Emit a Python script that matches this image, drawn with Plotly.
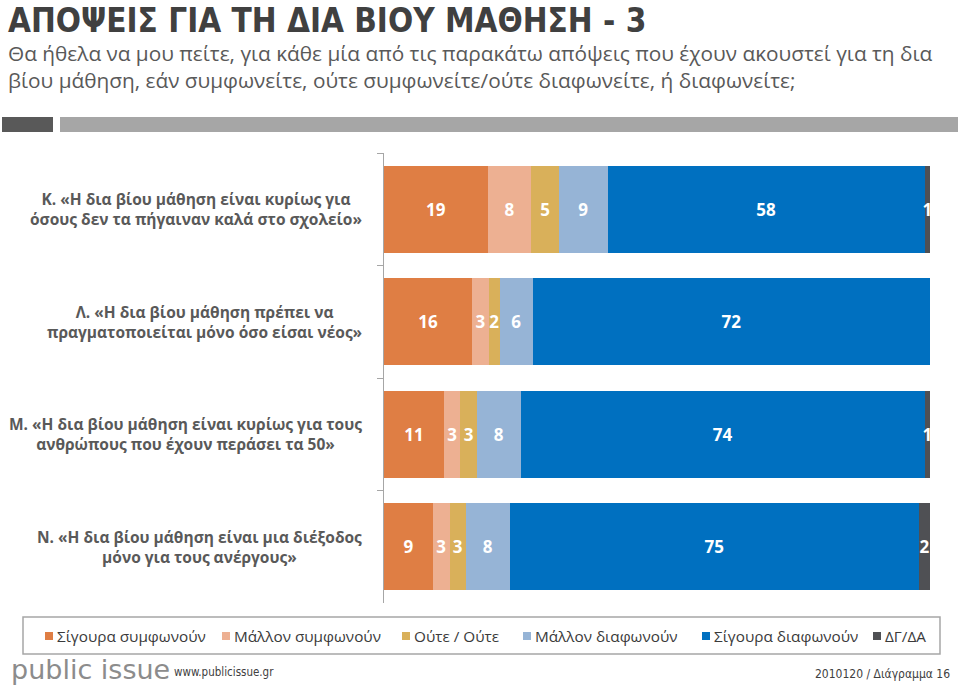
import plotly.graph_objects as go

statements = [
    "Κ. «Η δια βίου μάθηση είναι κυρίως για<br>όσους δεν τα πήγαιναν καλά στο σχολείο»",
    "Λ. «Η δια βίου μάθηση πρέπει να<br>πραγματοποιείται μόνο όσο είσαι νέος»",
    "Μ. «Η δια βίου μάθηση είναι κυρίως για τους<br>ανθρώπους που έχουν περάσει τα 50»",
    "Ν. «Η δια βίου μάθηση είναι μια διέξοδος<br>μόνο για τους ανέργους»",
]
series_names = ["Σίγουρα συμφωνούν", "Μάλλον συμφωνούν", "Ούτε / Ούτε",
                "Μάλλον διαφωνούν", "Σίγουρα διαφωνούν", "ΔΓ/ΔΑ"]
definitely_agree = [19, 16, 11, 9]
rather_agree = [8, 3, 3, 3]
neither = [5, 2, 3, 3]
rather_disagree = [9, 6, 8, 8]
definitely_disagree = [58, 72, 74, 75]
dk_na = [1, None, 1, 2]

colors = ["#DF7E44", "#EDB092", "#D9B05A", "#96B4D6", "#0070C0", "#4F5054"]

W, H = 960, 687
L, R, T, B = 384, 30, 153, 84
PW, PH = W - L - R, H - T - B


def fx(px):
    return (px - L) / PW


def fy(py):
    return (H - B - py) / PH


fig = go.Figure()
all_series = [definitely_agree, rather_agree, neither, rather_disagree,
              definitely_disagree, dk_na]
for name, vals, col in zip(series_names, all_series, colors):
    fig.add_trace(go.Bar(
        y=statements, x=vals, name=name, orientation="h",
        marker=dict(color=col, line=dict(width=0)),
        text=["" if v is None else str(v) for v in vals],
        texttemplate="%{text}", textposition="inside", insidetextanchor="middle",
        textfont=dict(family="Open Sans", size=17, color="white", weight="bold"),
        hoverinfo="skip", showlegend=False,
    ))

fig.update_layout(
    width=W, height=H, barmode="stack", barnorm="percent", bargap=0.23,
    margin=dict(l=L, r=R, t=T, b=B),
    paper_bgcolor="white", plot_bgcolor="white",
    uniformtext=dict(minsize=17, mode="show"),
    font=dict(family="Open Sans", color="#595959"),
    xaxis=dict(range=[0, 100], visible=False, fixedrange=True),
    yaxis=dict(autorange="reversed", showticklabels=False, showline=True,
               linecolor="#A6A6A6", linewidth=1, ticks="outside", tickson="boundaries",
               ticklen=6, tickcolor="#A6A6A6", showgrid=False, zeroline=False),
    showlegend=False,
)

# category labels
for s in statements:
    fig.add_annotation(xref="paper", yref="y", x=fx(364), y=s, text="<b>" + s + "</b>",
                       showarrow=False, xanchor="right", align="center",
                       font=dict(family="Open Sans", size=15.5, color="#595959"))

# legend (manual, close to original layout)
legend_x = [45, 222, 402, 523, 702, 873]
fig.add_shape(type="rect", xref="paper", yref="paper", x0=fx(23), x1=fx(940), y0=fy(654), y1=fy(617),
              fillcolor="white", line=dict(color="#A6A6A6", width=1.5))
for name, col, lx in zip(series_names, colors, legend_x):
    fig.add_shape(type="rect", xref="paper", yref="paper", x0=fx(lx), x1=fx(lx + 8),
                  y0=fy(640), y1=fy(632), fillcolor=col, line=dict(width=0))
    fig.add_annotation(xref="paper", yref="paper", x=fx(lx + 10), y=fy(636), xanchor="left",
                       yanchor="middle", text=name, showarrow=False,
                       font=dict(family="Open Sans", size=15.3, color="#3A3A3A"))

# titles
fig.add_annotation(xref="paper", yref="paper", x=fx(6), y=fy(-1), xanchor="left", yanchor="top",
                   text="<b>ΑΠΟΨΕΙΣ ΓΙΑ ΤΗ ΔΙΑ ΒΙΟΥ ΜΑΘΗΣΗ - 3</b>", showarrow=False,
                   font=dict(family="DejaVu Sans Condensed", size=33, color="#404040"))
fig.add_annotation(xref="paper", yref="paper", x=fx(6), y=fy(37), xanchor="left", yanchor="top",
                   align="left", showarrow=False,
                   text="Θα ήθελα να μου πείτε, για κάθε μία από τις παρακάτω απόψεις που έχουν ακουστεί για τη δια<br>"
                        "βίου μάθηση, εάν συμφωνείτε, ούτε συμφωνείτε/ούτε διαφωνείτε, ή διαφωνείτε;",
                   font=dict(family="Open Sans", size=20.8, color="#595959"))

fig.add_shape(type="rect", xref="paper", yref="paper", x0=fx(2), x1=fx(53), y0=fy(132), y1=fy(117),
              fillcolor="#595959", line=dict(width=0))
fig.add_shape(type="rect", xref="paper", yref="paper", x0=fx(60), x1=fx(958), y0=fy(132), y1=fy(117),
              fillcolor="#A6A6A6", line=dict(width=0))

# footer
fig.add_annotation(xref="paper", yref="paper", x=fx(9), y=fy(687), xanchor="left", yanchor="bottom",
                   text="public issue", showarrow=False,
                   font=dict(family="DejaVu Sans", size=27, color="#8C8C8C"))
fig.add_annotation(xref="paper", yref="paper", x=fx(172), y=fy(681), xanchor="left", yanchor="bottom",
                   text="www.publicissue.gr", showarrow=False,
                   font=dict(family="DejaVu Sans Condensed", size=11.5, color="#404040"))
fig.add_annotation(xref="paper", yref="paper", x=fx(952), y=fy(683), xanchor="right", yanchor="bottom",
                   text="2010120 / Διάγραμμα 16", showarrow=False,
                   font=dict(family="DejaVu Sans Condensed", size=12, color="#404040"))

fig.write_html("out.html", config={"displayModeBar": False, "staticPlot": True},
               post_script="document.body.style.margin='0';")
